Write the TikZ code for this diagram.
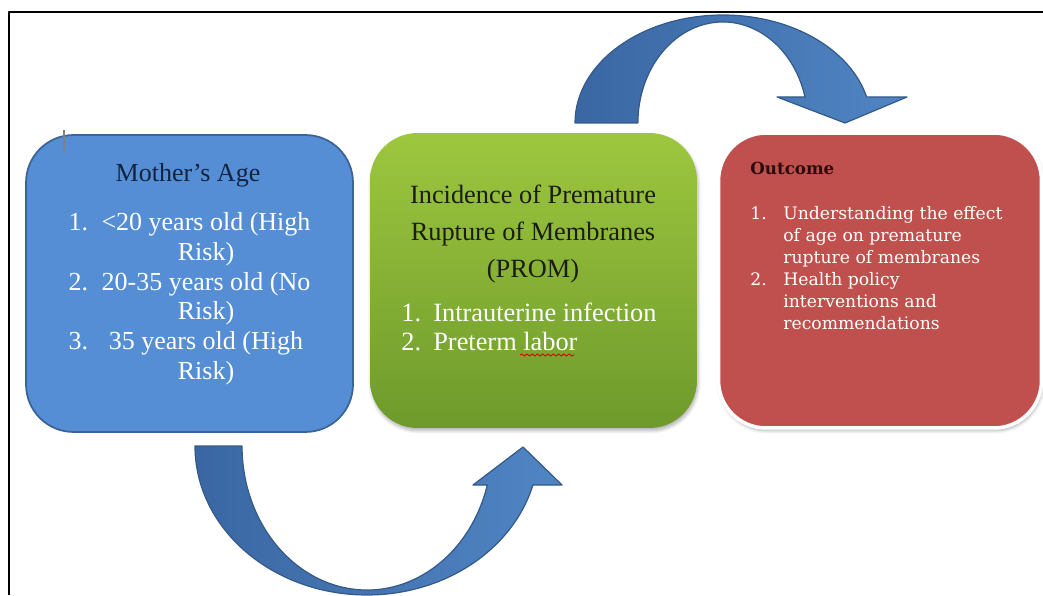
\documentclass[tikz,border=0pt]{standalone}
\usepackage{fontspec}
\setmainfont{Liberation Serif}
\newfontfamily\outfont{DejaVu Serif}
\usetikzlibrary{shadows.blur,decorations.pathmorphing}
\definecolor{agefill}{HTML}{558ED5}
\definecolor{ageline}{HTML}{3B6396}
\definecolor{promtop}{HTML}{9DC73E}
\definecolor{prombot}{HTML}{6E9A2C}
\definecolor{outfill}{HTML}{C0504D}
\definecolor{arrdark}{HTML}{3A67A3}
\definecolor{arrlight}{HTML}{5085C3}
\definecolor{arrline}{HTML}{355A88}
\definecolor{navytext}{HTML}{132440}
\definecolor{promtext}{HTML}{1C1C10}
\definecolor{outtext}{HTML}{2B0C0C}
\tikzset{every scope/.style={line join=round},
  box/.style={rounded corners=0.95cm, minimum width=6.54cm, minimum height=5.9cm, inner sep=0pt},
  softshadow/.style={blur shadow={shadow xshift=0.6pt, shadow yshift=-1.6pt, shadow blur steps=6, shadow opacity=30}},
  bendarrow/.style={draw=arrline, line width=0.7pt, left color=arrdark, right color=arrlight}}

\begin{document}
\begin{tikzpicture}[x=0.02cm,y=0.02cm]
      \useasboundingbox (0,0) rectangle (1043,595);
      \draw[line width=1.1pt] (9,0) -- (9,583) -- (1043,583);
      % three boxes
      \node[box, fill=agefill, draw=ageline, line width=1pt, minimum height=5.94cm] (Age) at (189.5,311.5) {};
      \node[box, top color=promtop, bottom color=prombot, softshadow] (PROM) at (533.5,314.5) {};
      \node[box, fill=outfill, draw=white, line width=2pt, softshadow, minimum width=6.46cm] (Out) at (880,314.5) {};
      \draw[gray, line width=0.6pt] (64,443) -- (64,465);
      % box texts
      \node[text=navytext, font=\fontsize{14.8}{17}\selectfont] (AgeT) at (188,420) {Mother's Age};
      \node[text=white, font=\fontsize{14.8}{17}\selectfont] (AgeL) at (189.5,296)
        {\begin{tabular}{@{}p{0.66cm}@{}c@{}}1. & <20 years old (High\\ & Risk)\\2. & 20-35 years old (No\\ & Risk)\\3. & 35 years old (High\\ & Risk)\end{tabular}};
      \node[text=promtext, align=center, font=\fontsize{15}{21}\selectfont] (PROMT) at (533,361) {Incidence of Premature\\Rupture of Membranes\\(PROM)};
      \node[text=white, anchor=west, inner sep=0pt, font=\fontsize{15}{16.5}\selectfont] (PROML) at (401,264.5)
        {\begin{tabular}{@{}p{0.64cm}@{}l@{}}1. & Intrauterine infection\\2. & Preterm labor\end{tabular}};
      \draw[red!85!black, line width=0.5pt, decorate, decoration={snake, amplitude=0.6pt, segment length=3pt}] (520,240) -- (574,240);
      \node[text=outtext, anchor=west, inner sep=0pt, font=\outfont\bfseries\fontsize{9.5}{12.5}\selectfont] (OutT) at (750,427) {Outcome};
      \node[text=white, anchor=west, inner sep=0pt, font=\outfont\fontsize{9.8}{12.5}\selectfont] (OutL) at (750,324.5)
        {\begin{tabular}{@{}p{0.66cm}@{}l@{}}1. & Understanding the effect\\ & of age on premature\\ & rupture of membranes\\2. & Health policy\\ & interventions and\\ & recommendations\end{tabular}};
      % curved arrows
      \draw[bendarrow] (575,472) arc[start angle=180, end angle=14, x radius=2.96cm, y radius=2.16cm]
        -- (907,498) -- (845,472) -- (777,498) -- (805,498)
        arc[start angle=14.9, end angle=180, x radius=1.70cm, y radius=2.02cm] -- cycle;
      \draw[bendarrow] (195,149) arc[start angle=180, end angle=344.8, x radius=3.44cm, y radius=2.98cm]
        -- (562,110) -- (523,148) -- (473,110) -- (487.3,110)
        arc[start angle=344.3, end angle=180, x radius=2.50cm, y radius=2.88cm] -- cycle;
    \end{tikzpicture}
\end{document}
